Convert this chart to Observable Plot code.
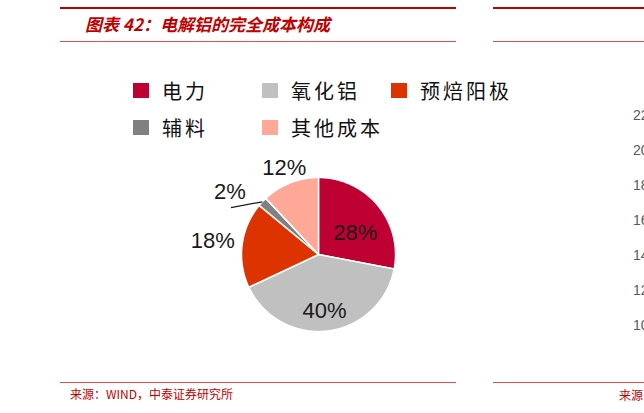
<!DOCTYPE html>
<html><head><meta charset="utf-8">
<script src="https://cdn.jsdelivr.net/npm/d3@7"></script>
<script src="https://cdn.jsdelivr.net/npm/@observablehq/plot@0.6"></script>
<style>
html,body{margin:0;padding:0;background:#fff;}
body{width:644px;height:413px;overflow:hidden;position:relative;}
.abs{position:absolute;}
.thick{height:2.5px;background:#c00000;}
.thin{height:1px;background:#d85050;}
.title{left:85px;top:15px;font:italic bold 17px/17px "Noto Sans CJK SC",sans-serif;color:#c00000;white-space:nowrap;}
.src{font:12px/12px "Noto Sans CJK SC","Liberation Sans",sans-serif;color:#c00000;white-space:nowrap;}
.lg-swatches{font-family:"Noto Sans CJK SC",sans-serif;font-size:20px;color:#111;margin:0;width:400px;}
.lg-swatches-wrap{display:flex;flex-wrap:wrap;align-items:center;}
.lg-swatches-wrap .lg-swatch{width:129px;height:37px;margin-right:0;letter-spacing:3px;display:inline-flex;align-items:center;}
.lg-swatch > svg{margin-right:13px;}
#right svg, #pie svg{max-width:none !important;}
</style></head><body>
<div class="abs thick" style="left:60px;top:6.5px;width:396px"></div>
<div class="abs thin" style="left:60px;top:41px;width:396px"></div>
<div class="abs title">图表 42：电解铝的完全成本构成</div>
<div class="abs thin" style="left:60px;top:382px;width:396px"></div>
<div class="abs src" style="left:70px;top:388px">来源：WIND，中泰证券研究所</div>

<div class="abs thick" style="left:493px;top:6.5px;width:151px"></div>
<div class="abs thin" style="left:493px;top:41px;width:151px"></div>
<div class="abs thin" style="left:493px;top:382px;width:151px"></div>
<div class="abs src" style="left:619px;top:389px">来源</div>

<div id="legend" class="abs" style="left:133px;top:72px"></div>
<div id="pie" class="abs" style="left:168px;top:144px;width:300px;height:220px"></div>
<div id="right" class="abs" style="left:600px;top:100px;width:60px;height:240px"></div>
<script>
// ---- data ----
const categories = ["电力", "氧化铝", "预焙阳极", "辅料", "其他成本"];
const shares = [28, 40, 18, 2, 12];
const colors = ["#BE0032", "#C0C0C0", "#DD3300", "#808080", "#FFA898"];
const rightTicks = [10, 12, 14, 16, 18, 20, 22];

// ---- pie geometry via d3.pie ----
const R = 77, FONT = 22;
const rows = categories.map((name, i) => ({name, share: shares[i]}));
const arcs = d3.pie().sort(null).value(d => d.share)(rows);
const pt = (a, r) => [r * Math.sin(a), -r * Math.cos(a)];
function ring(a0, a1) {
  const pts = [[0, 0]];
  const n = Math.max(2, Math.ceil((a1 - a0) / 0.01));
  for (let i = 0; i <= n; i++) pts.push(pt(a0 + (a1 - a0) * i / n, 1));
  pts.push([0, 0]);
  return pts;
}
const features = arcs.map(a => ({
  type: "Feature",
  properties: {name: a.data.name},
  geometry: {type: "Polygon", coordinates: [ring(a.startAngle, a.endAngle)]}
}));
const deg = Math.PI / 180;
const labels = arcs.map(a => {
  const mid = (a.startAngle + a.endAngle) / 2;
  const pct = a.data.share;
  const text = pct + "%";
  const inside = pct >= 20;
  const halfW = text.length * FONT * 0.33;
  let p;
  if (inside) p = pt(mid, 0.62);
  else if (pct < 5) p = pt(mid - 8 * deg, 1.41);
  else p = pt(mid, 1 + (8 + halfW * Math.abs(Math.sin(mid))) / R);
  return {x: p[0], y: p[1], text, inside};
});
const leaders = arcs.filter(a => a.data.share < 5).map(a => {
  const mid = (a.startAngle + a.endAngle) / 2;
  const p1 = pt(mid, 1), p2 = pt(mid - 15 * deg, 1.29);
  return {x1: p1[0], y1: p1[1], x2: p2[0], y2: p2[1]};
});

const colorScale = {domain: categories, range: colors};

document.getElementById("legend").appendChild(Plot.legend({
  color: colorScale, legend: "swatches", className: "lg",
  swatchWidth: 16, swatchHeight: 15
}));

const textOpts = {x: "x", y: "y", text: "text", fontSize: FONT, fill: "#1a1a1a",
  fontFamily: "Liberation Sans, Arial, sans-serif", clip: false};

document.getElementById("pie").appendChild(Plot.plot({
  width: 300, height: 220,
  margin: 0,
  projection: {type: "identity", clip: false,
    insetLeft: 73, insetRight: 73, insetTop: 33, insetBottom: 33,
    domain: {type: "MultiPoint", coordinates: [[-1, -1], [1, 1]]}},
  color: colorScale,
  style: {overflow: "visible", background: "transparent"},
  marks: [
    Plot.geo(features, {fill: d => d.properties.name, stroke: "white", strokeWidth: 1.5}),
    Plot.link(leaders, {x1: "x1", y1: "y1", x2: "x2", y2: "y2", stroke: "#1a1a1a", strokeWidth: 1.2}),
    Plot.text(labels.filter(d => d.inside), {...textOpts, dy: 9}),
    Plot.text(labels.filter(d => !d.inside), textOpts)
  ]
}));

document.getElementById("right").appendChild(Plot.plot({
  width: 60, height: 240,
  marginLeft: 48, marginRight: 0, marginTop: 15, marginBottom: 15,
  y: {domain: [10, 22]},
  style: {overflow: "visible", background: "transparent", fontFamily: "Liberation Sans, Arial, sans-serif", color: "#595959"},
  marks: [
    Plot.axisY({ticks: rightTicks, tickSize: 0, tickPadding: 0, anchor: "left", label: null, fontSize: 14, tickFormat: d => String(d)})
  ]
}));
</script>
</body></html>
